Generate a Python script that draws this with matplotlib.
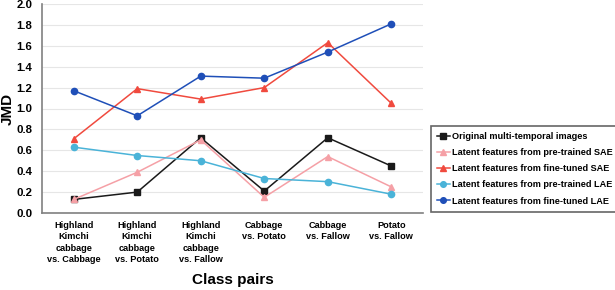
import matplotlib
matplotlib.use("Agg")
import matplotlib.pyplot as plt
import numpy as np

plt.rcParams['font.family'] = ['Liberation Sans', 'DejaVu Sans']
plt.rcParams['font.weight'] = 'bold'

categories = ["Highland\nKimchi\ncabbage\nvs. Cabbage", "Highland\nKimchi\ncabbage\nvs. Potato",
              "Highland\nKimchi\ncabbage\nvs. Fallow", "Cabbage\nvs. Potato",
              "Cabbage\nvs. Fallow", "Potato\nvs. Fallow"]

original = [0.13, 0.20, 0.72, 0.21, 0.72, 0.45]
pre_sae = [0.13, 0.39, 0.70, 0.15, 0.54, 0.25]
fine_sae = [0.71, 1.19, 1.09, 1.20, 1.63, 1.05]
pre_lae = [0.63, 0.55, 0.50, 0.33, 0.30, 0.18]
fine_lae = [1.17, 0.93, 1.31, 1.29, 1.54, 1.81]

series = [
    (original, "Original multi-temporal images", "#1a1a1a", "s"),
    (pre_sae, "Latent features from pre-trained SAE", "#f5a0a6", "^"),
    (fine_sae, "Latent features from fine-tuned SAE", "#f04a3e", "^"),
    (pre_lae, "Latent features from pre-trained LAE", "#4ab3d8", "o"),
    (fine_lae, "Latent features from fine-tuned LAE", "#1f4fb8", "o"),
]

fig = plt.figure(figsize=(6.15, 2.9), dpi=100)
ax = fig.add_axes([42/615, 1-213/290, 381/615, 209/290])

x = np.arange(len(categories))
for vals, lab, col, mk in series:
    ax.plot(x, vals, color=col, marker=mk, markersize=4.5, linewidth=1.1, label=lab)

ax.set_xlim(-0.5, 5.5)
ax.set_ylim(0, 2.0)
ax.set_yticks(np.arange(0, 2.01, 0.2))
ax.set_yticklabels(["%.1f" % v for v in np.arange(0, 2.01, 0.2)], fontsize=8.2)
ax.set_xticks(x)
ax.set_xticklabels(categories, fontsize=6.6, linespacing=1.3)
ax.tick_params(axis='x', length=0, pad=6)
ax.tick_params(axis='y', length=0, pad=7)
ax.grid(axis='y', color='#e6e6e6', linewidth=0.8)
ax.set_axisbelow(True)
for s in ['top', 'right']:
    ax.spines[s].set_visible(False)
ax.spines['left'].set_color('#808080')
ax.spines['bottom'].set_color('#808080')
ax.spines['left'].set_linewidth(1.2)
ax.spines['bottom'].set_linewidth(1.2)

ax.set_ylabel("JMD", fontsize=11, fontweight='bold', labelpad=1)
ax.set_xlabel("Class pairs", fontsize=11, fontweight='bold', labelpad=7)

leg = fig.legend(loc='upper left', bbox_to_anchor=(426/615, 1-121/290), fontsize=6.6,
                 frameon=True, fancybox=False, handlelength=1.4, handletextpad=0.2,
                 labelspacing=0.78, borderpad=0.7, markerscale=0.9)
leg.get_frame().set_edgecolor('#404040')
leg.get_frame().set_linewidth(1.2)

fig.savefig("out.png", dpi=100)
